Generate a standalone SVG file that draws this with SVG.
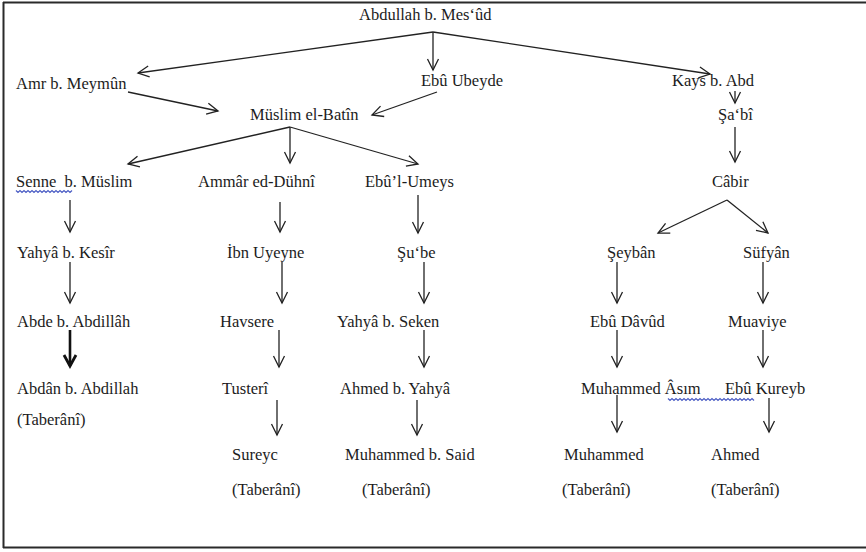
<svg xmlns="http://www.w3.org/2000/svg" width="866" height="552" viewBox="0 0 866 552">
<defs>
<style>
text{font-family:"Liberation Serif","Times New Roman",serif;font-size:16.5px;fill:#1c1c1c}
.c{fill:none;stroke:#222;stroke-width:1.3}
.t{fill:none;stroke:#111;stroke-width:2.6}
.w{fill:none;stroke:#4a5cc4;stroke-width:1.2}
</style>
<marker id="ah" markerUnits="userSpaceOnUse" markerWidth="16" markerHeight="16" viewBox="-13 -8 16 16" refX="0" refY="0" orient="auto">
<path d="M-11,-5.5 L0,0 L-11,5.5" fill="none" stroke="#222" stroke-width="1.3"/>
</marker>
<marker id="ahb" markerUnits="userSpaceOnUse" markerWidth="18" markerHeight="18" viewBox="-14 -9 18 18" refX="0" refY="0" orient="auto">
<path d="M-11,-6 L0,0 L-11,6" fill="none" stroke="#111" stroke-width="2.8"/>
</marker>
</defs>
<rect x="0" y="0" width="866" height="552" fill="#fff"/>
<g id="border" fill="none" stroke="#2a2a2a" stroke-width="2">
<path d="M3.5,2 V548"/>
<path d="M3,2.5 H866"/>
<path d="M3,547.5 H866"/>
</g>
<g id="connectors">
<path class="c" d="M433,32 L138,73" marker-end="url(#ah)"/>
<path class="c" d="M433,32 L433,70" marker-end="url(#ah)"/>
<path class="c" d="M433,32 L710,74" marker-end="url(#ah)"/>
<path class="c" d="M128,92 L218,111" marker-end="url(#ah)"/>
<path class="c" d="M437,92 L372,115" marker-end="url(#ah)"/>
<path class="c" d="M735,91 L735,103" marker-end="url(#ah)"/>
<path class="c" d="M735,127 L735,162" marker-end="url(#ah)"/>
<path class="c" d="M290,127 L128,164" marker-end="url(#ah)"/>
<path class="c" d="M290,127 L290,163" marker-end="url(#ah)"/>
<path class="c" d="M290,127 L418,164" marker-end="url(#ah)"/>
<path class="c" d="M727,200 L658,233" marker-end="url(#ah)"/>
<path class="c" d="M727,200 L768,233" marker-end="url(#ah)"/>
<path class="c" d="M70,200 L70,232" marker-end="url(#ah)"/>
<path class="c" d="M280,202 L280,232" marker-end="url(#ah)"/>
<path class="c" d="M418,195 L418,233" marker-end="url(#ah)"/>
<path class="c" d="M70,262 L70,303" marker-end="url(#ah)"/>
<path class="c" d="M282,262 L282,303" marker-end="url(#ah)"/>
<path class="c" d="M424,262 L424,303" marker-end="url(#ah)"/>
<path class="c" d="M617,262 L617,303" marker-end="url(#ah)"/>
<path class="c" d="M763,262 L763,303" marker-end="url(#ah)"/>
<path class="t" d="M70,330 L70,366" marker-end="url(#ahb)"/>
<path class="c" d="M279,330 L279,367" marker-end="url(#ah)"/>
<path class="c" d="M424,330 L424,367" marker-end="url(#ah)"/>
<path class="c" d="M617,330 L617,367" marker-end="url(#ah)"/>
<path class="c" d="M763,330 L763,367" marker-end="url(#ah)"/>
<path class="c" d="M277,400 L277,435" marker-end="url(#ah)"/>
<path class="c" d="M417,400 L417,435" marker-end="url(#ah)"/>
<path class="c" d="M617,395 L617,432" marker-end="url(#ah)"/>
<path class="c" d="M769,398 L769,432" marker-end="url(#ah)"/>
</g>
<g id="n-abdullah"><text x="359" y="20">Abdullah b. Mes‘ûd</text></g>
<g id="n-amr"><text x="16" y="89">Amr b. Meymûn</text></g>
<g id="n-ebuubeyde"><text x="421" y="86">Ebû Ubeyde</text></g>
<g id="n-kays"><text x="672" y="86">Kays b. Abd</text></g>
<g id="n-sabi"><text x="718" y="120">Şa‘bî</text></g>
<g id="n-muslim"><text x="250" y="120">Müslim el-Batîn</text></g>
<g id="n-senne"><text x="16" y="187" xml:space="preserve">Senne  b. Müslim</text>
<path class="w" d="M16,190.5 l2,2 l2,-2 l2,2 l2,-2 l2,2 l2,-2 l2,2 l2,-2 l2,2 l2,-2 l2,2 l2,-2 l2,2 l2,-2 l2,2 l2,-2 l2,2 l2,-2 l2,2 l2,-2 l2,2 l2,-2 l2,2 l2,-2 l2,2 l2,-2 l2,2 l2,-2"/></g>
<g id="n-ammar"><text x="198" y="187">Ammâr ed-Dühnî</text></g>
<g id="n-ebulumeys"><text x="365" y="187">Ebû’l-Umeys</text></g>
<g id="n-cabir"><text x="712" y="187">Câbir</text></g>
<g id="n-yahyakesir"><text x="17" y="258">Yahyâ b. Kesîr</text></g>
<g id="n-ibnuyeyne"><text x="227" y="258">İbn Uyeyne</text></g>
<g id="n-sube"><text x="397" y="258">Şu‘be</text></g>
<g id="n-seyban"><text x="607" y="258">Şeybân</text></g>
<g id="n-sufyan"><text x="743" y="258">Süfyân</text></g>
<g id="n-abde"><text x="17" y="327">Abde b. Abdillâh</text></g>
<g id="n-havsere"><text x="220" y="327">Havsere</text></g>
<g id="n-yahyaseken"><text x="337" y="327">Yahyâ b. Seken</text></g>
<g id="n-ebudavud"><text x="590" y="327">Ebû Dâvûd</text></g>
<g id="n-muaviye"><text x="728" y="327">Muaviye</text></g>
<g id="n-abdan"><text x="17" y="394">Abdân b. Abdillah</text><text x="17" y="425">(Taberânî)</text></g>
<g id="n-tusteri"><text x="222" y="394">Tusterî</text></g>
<g id="n-ahmedyahya"><text x="340" y="394">Ahmed b. Yahyâ</text></g>
<g id="n-muhammedasim"><text x="581" y="394">Muhammed Âsım</text></g>
<g id="n-ebukureyb"><text x="725" y="394">Ebû Kureyb</text></g>
<path class="w" d="M668,398.5 l2,2 l2,-2 l2,2 l2,-2 l2,2 l2,-2 l2,2 l2,-2 l2,2 l2,-2 l2,2 l2,-2 l2,2 l2,-2 l2,2 l2,-2 l2,2 l2,-2 l2,2 l2,-2 l2,2 l2,-2 l2,2 l2,-2 l2,2 l2,-2 l2,2 l2,-2 l2,2 l2,-2 l2,2 l2,-2 l2,2 l2,-2 l2,2 l2,-2 l2,2 l2,-2 l2,2 l2,-2 l2,2 l2,-2 l2,2"/>
<g id="n-sureyc"><text x="232" y="460">Sureyc</text><text x="232" y="495">(Taberânî)</text></g>
<g id="n-muhammedsaid"><text x="345" y="460">Muhammed b. Said</text><text x="362" y="495">(Taberânî)</text></g>
<g id="n-muhammed"><text x="564" y="460">Muhammed</text><text x="562" y="495">(Taberânî)</text></g>
<g id="n-ahmed"><text x="711" y="460">Ahmed</text><text x="711" y="495">(Taberânî)</text></g>
</svg>
